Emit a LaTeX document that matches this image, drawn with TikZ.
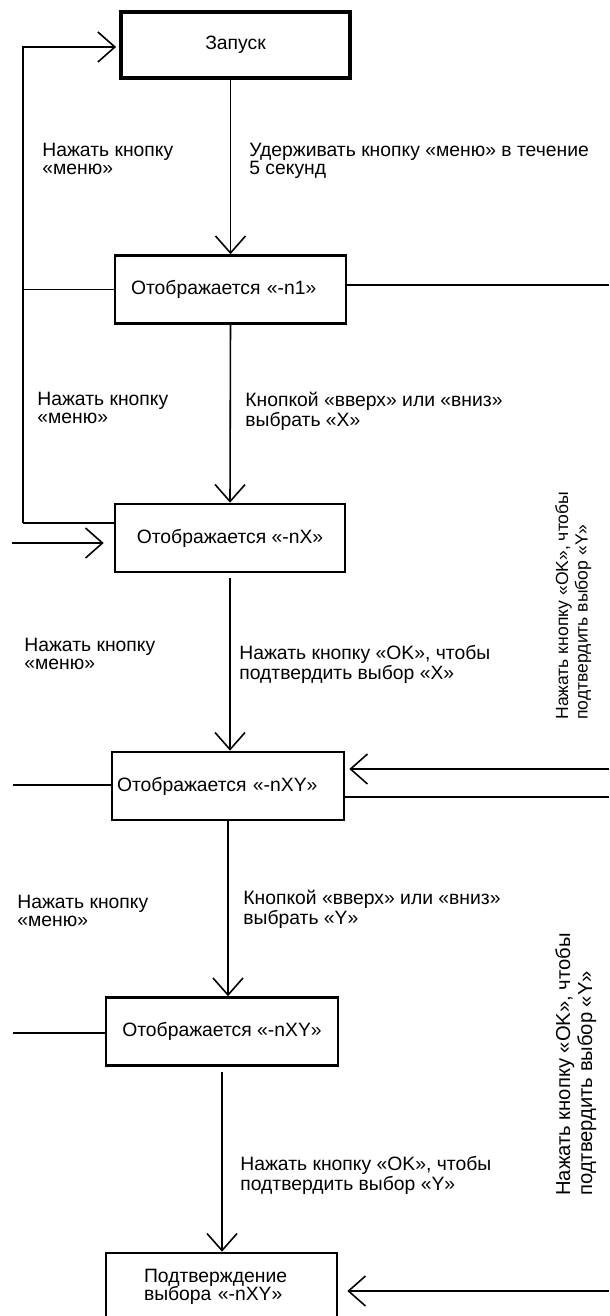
\documentclass[tikz,border=0pt]{standalone}
\usepackage{fontspec}
\setmainfont{Liberation Sans}
\usetikzlibrary{arrows.meta, positioning}
\hyphenpenalty=10000
\tikzset{
  box/.style={rectangle, draw, line width=1.5pt, minimum height=1.36cm, inner sep=0pt, font=\fontsize{11}{10.5}\selectfont},
  lbl/.style={anchor=north west, inner sep=0pt, align=left, font=\fontsize{11}{10}\selectfont},
  vlbl/.style={lbl, rotate=90},
  ln/.style={line width=0.9pt},
  arr/.style={ln, -{Straight Barb[length=3.4mm, width=6mm]}},
}

\begin{document}
\begin{tikzpicture}[x=0.02cm, y=-0.02cm]
\useasboundingbox (0,0) rectangle (609,1316);
\clip (0,0) rectangle (609,1316);

% states
\node[box, line width=2.2pt, minimum width=4.58cm, minimum height=1.32cm] (start) at (235.5,45) {Запуск};
\node[box, text width=3.98cm, inner xsep=0.32cm, align=left] (n1) at (230.5,289.5) {Отображается «-n1»};
\node[box, minimum width=4.6cm] (nX) at (230,538) {Отображается «-nX»};
\node[box, text width=4.44cm, inner xsep=0.1cm, align=left] (nxy1) at (228,786) {Отображается «-nXY»};
\node[box, minimum width=4.64cm] (nxy2) at (222,1031.5) {Отображается «-nXY»};
\node[box, text width=3.1cm, inner xsep=0.76cm, align=left] (conf) at (221.5,1287) {Подтверждение\\выбора «-nXY»};

% main chain
\draw[arr] (start.south -| n1.north) -- (n1.north);
\draw[arr] (n1.south) -- (nX.north);
\draw[arr, shorten <=0.1cm] (nX.south) -- (nX.south |- nxy1.north);
\draw[arr] (nxy1.south) -- (nxy1.south |- nxy2.north);
\draw[arr, shorten <=0.1cm] (nxy2.south) -- (nxy2.south |- conf.north);

% back to start
\coordinate (fbtop) at (23,47);
\coordinate (fbbot) at (23,523);
\draw[arr, shorten >=0.06cm] (fbbot) -- (fbtop) -- (fbtop -| start.west);
\draw[ln] (fbbot) -- (fbbot -| nX.west);
\draw[ln] (n1.west) -- (n1.west -| fbtop);

% stubs on the left
\coordinate (inX) at (12,543);
\coordinate (lxy1) at (13,785);
\coordinate (lxy2) at (13,1033);
\draw[arr, shorten >=0.2cm] (inX) -- (inX -| nX.west);
\draw[ln] (lxy1) -- (lxy1 -| nxy1.west);
\draw[ln] (lxy2) -- (lxy2 -| nxy2.west);

% stubs on the right
\coordinate (r1) at (609,285);
\coordinate (rin1) at (609,769);
\coordinate (rout1) at (609,797);
\coordinate (rin2) at (609,1291);
\draw[ln] (n1.east |- r1) -- (r1);
\draw[arr, shorten >=0.08cm] (rin1) -- (rin1 -| nxy1.east);
\draw[ln] (rout1 -| nxy1.east) -- (rout1);
\draw[arr, shorten >=0.18cm] (rin2) -- (rin2 -| conf.east);

% labels
\node[lbl] (menu1) at (42,143) {Нажать кнопку\\«меню»};
\node[lbl] (hold) at (249,143) {Удерживать кнопку «меню» в течение\\5 секунд};
\node[lbl] (menu2) at (37,392) {Нажать кнопку\\«меню»};
\node[lbl] (selX) at (245,392) {Кнопкой «вверх» или «вниз»\\выбрать «X»};
\node[lbl] (menu3) at (24,638) {Нажать кнопку\\«меню»};
\node[lbl] (okX) at (239,645) {Нажать кнопку «OK», чтобы\\подтвердить выбор «X»};
\node[lbl] (menu4) at (17,895) {Нажать кнопку\\«меню»};
\node[lbl] (selY) at (243,890) {Кнопкой «вверх» или «вниз»\\выбрать «Y»};
\node[lbl] (okY) at (240,1156) {Нажать кнопку «OK», чтобы\\подтвердить выбор «Y»};
\node[vlbl, font=\fontsize{10}{11}\selectfont] (okYa) at (555,720) {Нажать кнопку «OK», чтобы\\подтвердить выбор «Y»};
\node[vlbl, font=\fontsize{11.5}{12.5}\selectfont] (okYb) at (555,1196) {Нажать кнопку «OK», чтобы\\подтвердить выбор «Y»};
\end{tikzpicture}
\end{document}
